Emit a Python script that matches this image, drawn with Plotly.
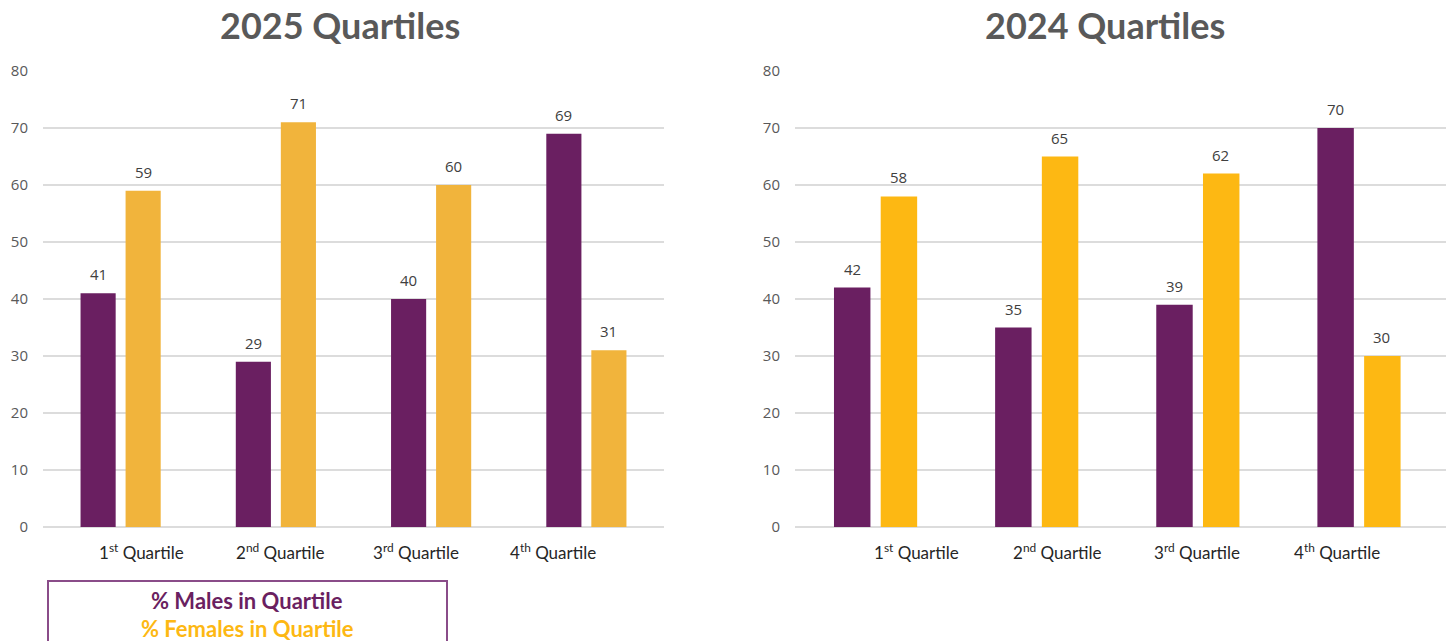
import plotly.graph_objects as go

# Pay-quartile split by sex, two reporting years
quartiles = ["1<sup>st</sup> Quartile", "2<sup>nd</sup> Quartile",
             "3<sup>rd</sup> Quartile", "4<sup>th</sup> Quartile"]
males_2025 = [41, 29, 40, 69]
females_2025 = [59, 71, 60, 31]
males_2024 = [42, 35, 39, 70]
females_2024 = [58, 65, 62, 30]
y_ticks = [0, 10, 20, 30, 40, 50, 60, 70, 80]

W, H = 1446, 641
PURPLE = "#6A1F61"
YELLOW_25 = "#F1B43C"
YELLOW_24 = "#FDB813"
GRID = "#dcdcdc"
TICK_GREY = "#595959"

def px(x):
    return x / W

def py(y):
    return 1 - y / H

pos = list(range(len(quartiles)))

fig = go.Figure()
panels = [
    ("x", "y", males_2025, females_2025, YELLOW_25),
    ("x2", "y2", males_2024, females_2024, YELLOW_24),
]
for xa, ya, m, f, ycol in panels:
    fig.add_trace(go.Bar(x=pos, y=m, xaxis=xa, yaxis=ya, marker_color=PURPLE,
                         marker_line_width=0, offsetgroup="m", showlegend=False,
                         hoverinfo="y"))
    fig.add_trace(go.Bar(x=pos, y=f, xaxis=xa, yaxis=ya, marker_color=ycol,
                         marker_line_width=0, offsetgroup="f", showlegend=False,
                         hoverinfo="y"))

ann = []
# value labels above each bar
for xa, ya, m, f, shift in [("x", "y", males_2025, females_2025, 22.5),
                            ("x2", "y2", males_2024, females_2024, 23)]:
    for i in pos:
        for v, dx in ((m[i], -shift), (f[i], shift)):
            ann.append(dict(x=i, y=v, xref=xa, yref=ya, text=str(v),
                            showarrow=False, xshift=dx, yshift=19,
                            yanchor="middle",
                            font=dict(family="Open Sans", size=15, color="#404040")))

# category labels under each panel
left_centres = [141, 280, 416, 553]
right_centres = [916, 1057, 1197, 1337]
for centres in (left_centres, right_centres):
    for c, lab in zip(centres, quartiles):
        ann.append(dict(x=px(c), y=py(551), xref="paper", yref="paper", text=lab,
                        showarrow=False, xanchor="center", yanchor="middle",
                        font=dict(family="Lato", size=17, color="#262626")))

# panel titles
for c, t in ((340, "2025 Quartiles"), (1105, "2024 Quartiles")):
    ann.append(dict(x=px(c), y=py(25), xref="paper", yref="paper", text=f"<b>{t}</b>",
                    showarrow=False, xanchor="center", yanchor="middle",
                    font=dict(family="Lato", size=36, color=TICK_GREY)))

# key box text
ann.append(dict(x=px(247), y=py(600), xref="paper", yref="paper",
                text="<b>% Males in Quartile</b>", showarrow=False,
                xanchor="center", yanchor="middle",
                font=dict(family="Lato", size=22, color=PURPLE)))
ann.append(dict(x=px(247), y=py(628), xref="paper", yref="paper",
                text="<b>% Females in Quartile</b>", showarrow=False,
                xanchor="center", yanchor="middle",
                font=dict(family="Lato", size=22, color=YELLOW_24)))

shapes = [dict(type="rect", xref="paper", yref="paper",
               x0=px(48), x1=px(447), y0=py(660), y1=py(581),
               line=dict(color="#8A4C89", width=2), fillcolor="rgba(0,0,0,0)")]

yaxis_common = dict(range=[0, 80], tickvals=y_ticks, showgrid=True, gridcolor=GRID,
                    gridwidth=2, zeroline=True, zerolinecolor=GRID, zerolinewidth=2,
                    showline=False, ticks="", ticklabelstandoff=14,
                    tickfont=dict(family="Open Sans", size=15, color=TICK_GREY),
                    domain=[py(527), py(71)], fixedrange=True)
xaxis_common = dict(showticklabels=False, showgrid=False, zeroline=False,
                    showline=False, ticks="", fixedrange=True)

fig.update_layout(
    width=W, height=H,
    margin=dict(l=0, r=0, t=0, b=0, autoexpand=False),
    paper_bgcolor="white", plot_bgcolor="white",
    barmode="group", bargap=0.42, bargroupgap=0.22,
    xaxis=dict(domain=[px(43), px(664)], range=[-0.5, 3.5], **xaxis_common),
    xaxis2=dict(domain=[px(795), 1.0], range=[-0.5, 3.54], anchor="y2", **xaxis_common),
    yaxis=dict(anchor="x", **yaxis_common),
    yaxis2=dict(anchor="x2", **yaxis_common),
    annotations=ann,
    shapes=shapes,
)

fig.write_html("out.html")
